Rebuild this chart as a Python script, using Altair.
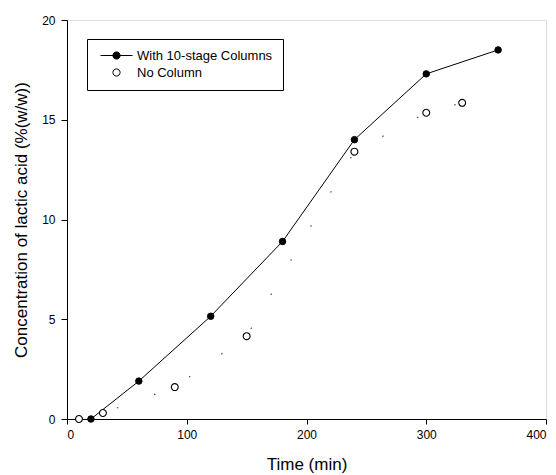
import altair as alt
import pandas as pd

# --- data ---
with_time = [20, 60, 120, 180, 240, 300, 360]
with_conc = [0.0, 1.9, 5.15, 8.9, 14.0, 17.3, 18.5]
no_time = [10, 30, 90, 150, 240, 300, 330]
no_conc = [0.0, 0.3, 1.6, 4.15, 13.4, 15.35, 15.85]

S1 = "With 10-stage Columns"
S2 = "No Column"
x_ticks = [0, 100, 200, 300, 400]
y_ticks = [0, 5, 10, 15, 20]

df = pd.DataFrame({
    "time": with_time + no_time,
    "conc": with_conc + no_conc,
    "series": [S1] * len(with_time) + [S2] * len(no_time),
})

FONT = "Liberation Sans"

xenc = alt.X("time:Q", scale=alt.Scale(domain=[0, 400], nice=False),
             axis=alt.Axis(values=x_ticks, title="Time (min)", grid=False,
                           tickSize=5, labelPadding=5, titlePadding=16,
                           labelFontSize=12, titleFontSize=17, titleFontWeight="normal",
                           domainColor="black", tickColor="black", labelColor="black",
                           titleColor="black", labelFont=FONT, titleFont=FONT))
yenc = alt.Y("conc:Q", scale=alt.Scale(domain=[0, 20], nice=False),
             axis=alt.Axis(values=y_ticks, title="Concentration of lactic acid (%(w/w))",
                           grid=False, tickSize=6, labelPadding=6, titlePadding=11,
                           labelFontSize=12, titleFontSize=17, titleFontWeight="normal",
                           domainColor="black", tickColor="black", labelColor="black",
                           titleColor="black", labelFont=FONT, titleFont=FONT))

base = alt.Chart(df)

line_with = base.transform_filter(alt.datum.series == S1).mark_line(
    color="black", strokeWidth=1).encode(x=xenc, y=yenc)

line_no = base.transform_filter(alt.datum.series == S2).mark_line(
    color="black", strokeWidth=1.2, strokeDash=[1.5, 38], opacity=0.7).encode(x=xenc, y=yenc)

pts_with = base.transform_filter(alt.datum.series == S1).mark_point(
    filled=True, fill="black", stroke="black", strokeWidth=1, size=42, opacity=1
).encode(x=xenc, y=yenc)

pts_no = base.transform_filter(alt.datum.series == S2).mark_point(
    filled=True, fill="white", stroke="black", strokeWidth=1.1, size=48, opacity=1
).encode(x=xenc, y=yenc)

P1 = "M-8,0L8,0M1.8,0A1.8,1.8,0,1,1,-1.8,0A1.8,1.8,0,1,1,1.8,0Z"
P2 = "M1.8,0A1.8,1.8,0,1,1,-1.8,0A1.8,1.8,0,1,1,1.8,0Z"

legend = alt.Legend(
    title=None, orient="none", legendX=20, legendY=19,
    strokeColor="black", fillColor="white", padding=10,
    symbolSize=16, symbolOffset=13, symbolStrokeColor="black", symbolStrokeWidth=1,
    symbolOpacity=1, labelOffset=14, labelFontSize=13, labelFont=FONT,
    labelColor="black", rowPadding=3,
)

dom = [S1, S2]
legend_layer = base.mark_point(filled=True, strokeWidth=1, opacity=0).encode(
    x=xenc, y=yenc,
    shape=alt.Shape("series:N", scale=alt.Scale(domain=dom, range=[P1, P2]), legend=legend),
    fill=alt.Fill("series:N", scale=alt.Scale(domain=dom, range=["black", "white"]), legend=legend),
    stroke=alt.Stroke("series:N", scale=alt.Scale(domain=dom, range=["black", "black"]), legend=legend),
)

chart = alt.layer(line_no, line_with, pts_no, pts_with, legend_layer).properties(
    width=479, height=399,
    autosize=alt.AutoSizeParams(type="none"),
    padding={"left": 67, "top": 20, "right": 10, "bottom": 56},
).configure_view(stroke="black", strokeWidth=1).configure(background="white")

chart.save("out.html", embed_options={"renderer": "svg", "actions": False})
